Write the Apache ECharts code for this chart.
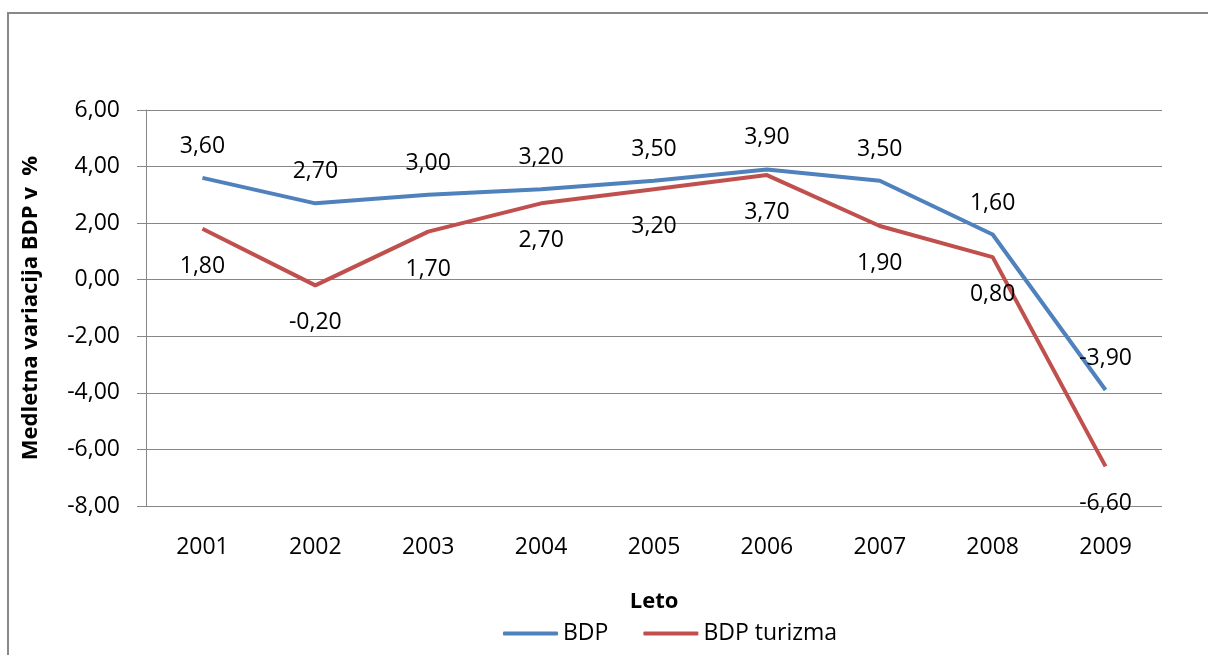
<!DOCTYPE html>
<html><head><meta charset="utf-8">
<script src="https://cdn.jsdelivr.net/npm/echarts@6/dist/echarts.min.js"></script>
<style>html,body{margin:0;padding:0;background:#fff}#c{width:1208px;height:655px}</style>
</head><body><div id="c"></div>
<script>
const categories = ['2001','2002','2003','2004','2005','2006','2007','2008','2009'];
const bdp = [3.6, 2.7, 3.0, 3.2, 3.5, 3.9, 3.5, 1.6, -3.9];
const bdpTurizma = [1.8, -0.2, 1.7, 2.7, 3.2, 3.7, 1.9, 0.8, -6.6];
const seriesNames = ['BDP', 'BDP turizma'];
const yTitle = 'Medletna variacija BDP v  %';
const xTitle = 'Leto';

const FONT = 'Open Sans';
const fmt = v => v.toFixed(2).replace('.', ',');
const chart = echarts.init(document.getElementById('c'), null, {renderer: 'canvas'});
chart.setOption({
  backgroundColor: '#fff',
  animation: false,
  textStyle: {fontFamily: FONT, color: '#000'},
  graphic: [{type: 'rect', shape: {x: 8, y: 13, width: 1300, height: 700}, style: {fill: 'none', stroke: '#888', lineWidth: 2}, silent: true}],
  grid: {left: 146, right: 46, top: 110, bottom: 149},
  legend: {
    top: 617, left: 498,
    data: seriesNames,
    icon: 'roundRect', itemWidth: 55, itemHeight: 4, itemGap: 35,
    textStyle: {fontFamily: FONT, fontSize: 23, color: '#000'}
  },
  xAxis: {
    type: 'category', data: categories, boundaryGap: true,
    name: xTitle, nameLocation: 'middle', nameGap: 85,
    nameTextStyle: {fontFamily: FONT, fontSize: 22, fontWeight: 'bold', color: '#000'},
    axisLine: {show: true, lineStyle: {color: '#868686', width: 1}},
    axisTick: {show: false},
    axisLabel: {fontFamily: FONT, fontSize: 23, color: '#000', margin: 30}
  },
  yAxis: {
    type: 'value', min: -8, max: 6, interval: 2,
    name: yTitle, nameLocation: 'middle', nameGap: 104, nameRotate: 90,
    nameTextStyle: {fontFamily: FONT, fontSize: 22, fontWeight: 'bold', color: '#000'},
    axisLine: {show: true, lineStyle: {color: '#868686', width: 1}},
    axisTick: {show: true, length: 9, lineStyle: {color: '#868686'}},
    axisLabel: {fontFamily: FONT, fontSize: 23, color: '#000', margin: 26, formatter: v => fmt(v)},
    splitLine: {show: true, lineStyle: {color: '#868686', width: 1}}
  },
  series: [
    {name: seriesNames[0], type: 'line', data: bdp, symbol: 'circle', symbolSize: 0, showSymbol: true,
     lineStyle: {color: '#4F81BD', width: 4}, itemStyle: {color: '#4F81BD'},
     labelLayout: {hideOverlap: false},
     label: {show: true, position: 'top', distance: 20, fontFamily: FONT, fontSize: 23, color: '#000', formatter: p => fmt(p.value)}},
    {name: seriesNames[1], type: 'line', data: bdpTurizma, symbol: 'circle', symbolSize: 0, showSymbol: true,
     lineStyle: {color: '#C0504D', width: 4}, itemStyle: {color: '#C0504D'},
     labelLayout: {hideOverlap: false},
     label: {show: true, position: 'bottom', distance: 26, fontFamily: FONT, fontSize: 23, color: '#000', formatter: p => fmt(p.value)}}
  ]
});
</script></body></html>
